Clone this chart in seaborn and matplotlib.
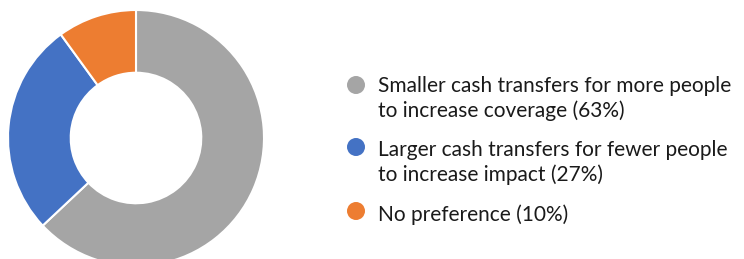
import matplotlib
matplotlib.use("Agg")
import matplotlib.pyplot as plt
import seaborn as sns

labels = [
    "Smaller cash transfers for more people\nto increase coverage (63%)",
    "Larger cash transfers for fewer people\nto increase impact (27%)",
    "No preference (10%)",
]
values = [63, 27, 10]
colors = ["#A5A5A5", "#4472C4", "#ED7D31"]

sns.set_theme(style="white")
plt.rcParams["font.family"] = ["Lato", "DejaVu Sans"]

W, H = 744, 259
fig = plt.figure(figsize=(W / 100, H / 100), dpi=100)

cx, cy, r = 136, 138, 128
ax = fig.add_axes([(cx - r) / W, (H - cy - r) / H, 2 * r / W, 2 * r / H])
ax.pie(values, colors=colors, startangle=90, counterclock=False, radius=1,
       wedgeprops=dict(width=0.49, edgecolor="white", linewidth=1.5))
ax.set_xlim(-1, 1)
ax.set_ylim(-1, 1)
ax.set_aspect("equal")
ax.axis("off")

marker_y = [85, 147, 211]
text_y = [92, 156, 221]
line_gap = 25
for lab, col, my, ty in zip(labels, colors, marker_y, text_y):
    fig.patches.append(matplotlib.patches.Ellipse(
        (356 / W, (H - my) / H), 18 / W, 18 / H, transform=fig.transFigure,
        facecolor=col, edgecolor="none"))
    for i, line in enumerate(lab.split("\n")):
        fig.text(378 / W, (H - ty - i * line_gap) / H, line, fontsize=15,
                 color="#1a1a1a", ha="left", va="baseline")

fig.savefig("out.png", dpi=100)
